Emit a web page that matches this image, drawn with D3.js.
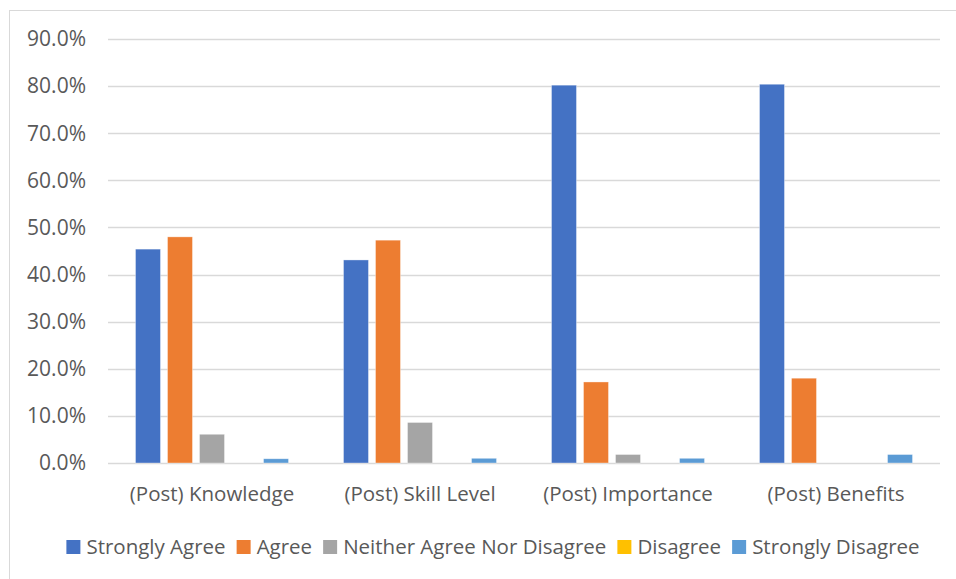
<!DOCTYPE html>
<html>
<head>
<meta charset="utf-8">
<script src="https://cdn.jsdelivr.net/npm/d3@7"></script>
<style>
  body { margin: 0; background: #fff; }
  svg text { font-family: "Open Sans", sans-serif; fill: #595959; }
</style>
</head>
<body>
<svg id="chart" width="956" height="579"></svg>
<script>
// categories and series
const categories = ['(Post) Knowledge', '(Post) Skill Level', '(Post) Importance', '(Post) Benefits'];
const seriesNames = ['Strongly Agree', 'Agree', 'Neither Agree Nor Disagree', 'Disagree', 'Strongly Disagree'];
const seriesColors = ['#4472C4', '#ED7D31', '#A5A5A5', '#FFC000', '#5B9BD5'];

const stronglyAgree = [45.4, 43.1, 80.2, 80.4];
const agree = [48.0, 47.3, 17.2, 18.0];
const neither = [6.1, 8.6, 1.8, 0.0];
const disagree = [0.0, 0.0, 0.0, 0.0];
const stronglyDisagree = [0.9, 1.0, 1.0, 1.8];

const yTicks = [0, 10, 20, 30, 40, 50, 60, 70, 80, 90];

const seriesValues = [stronglyAgree, agree, neither, disagree, stronglyDisagree];

const svg = d3.select('#chart');

// outer chart frame (runs off the right / bottom of the picture)
svg.append('rect')
    .attr('x', 9.5).attr('y', 10.5)
    .attr('width', 960).attr('height', 600)
    .attr('fill', 'none')
    .attr('stroke', '#D9D9D9');

const plot = { left: 108, right: 940, top: 39, bottom: 463 };

const x0 = d3.scaleBand()
    .domain(categories)
    .range([plot.left, plot.right]);

const x1 = d3.scaleBand()
    .domain(seriesNames)
    .range([27.5, x0.bandwidth() - 27.5])
    .paddingInner(0.22);

const y = d3.scaleLinear()
    .domain([0, 90])
    .range([plot.bottom, plot.top]);

// gridlines
svg.append('g')
    .selectAll('line')
    .data(yTicks)
    .enter().append('line')
        .attr('x1', plot.left).attr('x2', plot.right)
        .attr('y1', d => Math.round(y(d)) + 0.5)
        .attr('y2', d => Math.round(y(d)) + 0.5)
        .attr('stroke', '#D9D9D9')
        .attr('stroke-width', 1.4);

// y tick labels
svg.append('g')
    .selectAll('text')
    .data(yTicks)
    .enter().append('text')
        .attr('x', 86)
        .attr('y', d => y(d))
        .attr('dy', '0.35em')
        .attr('text-anchor', 'end')
        .style('font-size', '21px')
        .text(d => d.toFixed(1) + '%');

// bars
const groups = svg.append('g')
    .selectAll('g')
    .data(categories)
    .enter().append('g')
        .attr('transform', d => 'translate(' + x0(d) + ',0)');

groups.selectAll('rect')
    .data((d, i) => seriesNames.map((s, j) => ({ series: s, value: seriesValues[j][i], color: seriesColors[j] })))
    .enter().append('rect')
        .filter(d => d.value > 0)
        .attr('x', d => x1(d.series))
        .attr('y', d => y(d.value))
        .attr('width', x1.bandwidth())
        .attr('height', d => plot.bottom - y(d.value))
        .attr('fill', d => d.color)
        .attr('stroke', '#fff')
        .attr('stroke-opacity', 0.5)
        .attr('stroke-width', 0.7);

// category labels
svg.append('g')
    .selectAll('text')
    .data(categories)
    .enter().append('text')
        .attr('x', d => x0(d) + x0.bandwidth() / 2)
        .attr('y', 494)
        .attr('dy', '0.35em')
        .attr('text-anchor', 'middle')
        .style('font-size', '20.5px')
        .text(d => d);

// legend, centred under the plot
const legend = svg.append('g');
const items = legend.selectAll('g')
    .data(seriesNames)
    .enter().append('g');

items.append('rect')
    .attr('width', 14).attr('height', 14)
    .attr('y', -7)
    .attr('fill', (d, i) => seriesColors[i]);

items.append('text')
    .attr('x', 20)
    .attr('dy', '0.35em')
    .style('font-size', '20.5px')
    .text(d => d);

let offset = 0;
items.each(function() {
    const g = d3.select(this);
    const w = 20 + g.select('text').node().getComputedTextLength();
    g.attr('transform', 'translate(' + offset + ',0)');
    offset += w + 11;
});
const legendWidth = offset - 11;
legend.attr('transform', 'translate(' + (493 - legendWidth / 2) + ',547)');
</script>
</body>
</html>
